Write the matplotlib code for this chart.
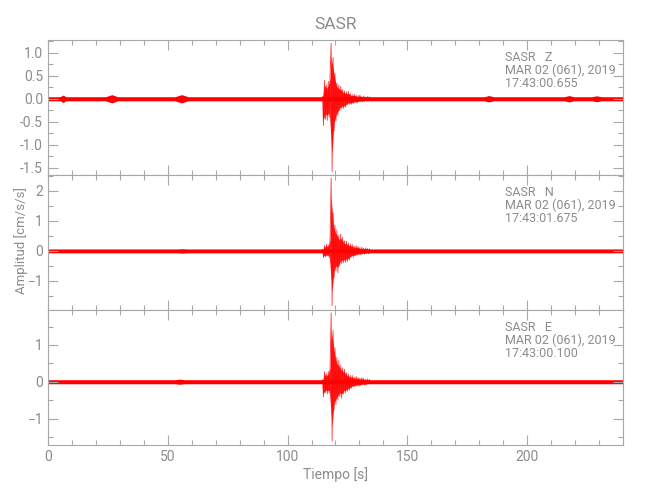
import matplotlib
matplotlib.use("Agg")
import matplotlib.pyplot as plt
from matplotlib.ticker import MultipleLocator
import numpy as np

plt.rcParams['font.family'] = ['Roboto', 'DejaVu Sans']

station = "SASR"
components = ["Z", "N", "E"]
start_labels = ["MAR 02 (061), 2019", "MAR 02 (061), 2019", "MAR 02 (061), 2019"]
start_times = ["17:43:00.655", "17:43:01.675", "17:43:00.100"]

# fondo de ruido: tiempos y semiamplitud de la banda
noise_t_z = [0, 5, 6.3, 7.5, 24, 26.7, 29, 53, 55.8, 58.5, 114.6, 136, 182, 184, 186, 215.5, 217.5, 219.5, 227, 229, 231, 240]
noise_w_z = [0.045, 0.045, 0.08, 0.045, 0.045, 0.09, 0.045, 0.045, 0.09, 0.045, 0.045, 0.045, 0.045, 0.07, 0.045, 0.045, 0.07, 0.045, 0.045, 0.065, 0.045, 0.045]
noise_t_n = [0, 54, 56, 58, 114.6, 136, 240]
noise_w_n = [0.065, 0.065, 0.075, 0.065, 0.065, 0.065, 0.065]
noise_t_e = [0, 53, 55, 57, 114.6, 136, 240]
noise_w_e = [0.055, 0.055, 0.07, 0.055, 0.055, 0.055, 0.055]

# evento: muestras leidas cada 0.4 s desde 114.6 s
event_t0 = 114.6
event_dt = 0.4
event_z = [0.05, -0.58, 0.40, -0.45, 0.30, -0.47, 0.38, -0.40, 0.60, 1.21,
           -1.59, 0.90, -0.70, 0.55, -0.48, 0.34, -0.36, 0.30, -0.26, 0.27,
           -0.22, 0.20, -0.21, 0.17, -0.18, 0.15, -0.13, 0.16, -0.12, 0.11,
           -0.12, 0.09, -0.10, 0.10, -0.08, 0.08, -0.09, 0.07, -0.06, 0.08,
           -0.06, 0.05, -0.06, 0.06, -0.05, 0.04, -0.05, 0.05, -0.04, 0.04]
event_n = [0.05, -0.22, 0.18, -0.20, 0.22, -0.17, 0.20, -0.23, 0.50, 2.43,
           -1.82, 1.27, -0.90, 0.85, -0.66, 0.70, -0.73, 0.52, -0.50, 0.56,
           -0.42, 0.45, -0.40, 0.33, -0.38, 0.32, -0.35, 0.26, -0.30, 0.23,
           -0.20, 0.22, -0.21, 0.16, -0.17, 0.17, -0.14, 0.15, -0.13, 0.11,
           -0.13, 0.12, -0.10, 0.09, -0.11, 0.10, -0.08, 0.08, -0.09, 0.07]
event_e = [0.05, -0.41, 0.27, -0.30, 0.22, -0.33, 0.28, -0.30, 0.50, 1.87,
           -1.62, 1.40, -0.77, 0.92, -0.62, 0.66, -0.50, 0.58, -0.40, 0.45,
           -0.45, 0.38, -0.33, 0.34, -0.30, 0.24, -0.26, 0.21, -0.23, 0.17,
           -0.18, 0.17, -0.14, 0.13, -0.14, 0.14, -0.11, 0.12, -0.12, 0.10,
           -0.10, 0.11, -0.08, 0.09, -0.09, 0.07, -0.07, 0.08, -0.06, 0.06]

ylims = [(-1.66, 1.28), (-1.97, 2.53), (-1.72, 1.95)]
ymajor = [0.5, 1.0, 1.0]
yminor = [0.25, 0.5, 0.5]

noise = [(noise_t_z, noise_w_z), (noise_t_n, noise_w_n), (noise_t_e, noise_w_e)]
events = [event_z, event_n, event_e]

gray = "#8c8c8c"
spine_gray = "#a8a8a8"

fig = plt.figure(figsize=(6.5, 5), dpi=100)
bottoms = [0.65, 0.38, 0.11]
axes = []
for i in range(3):
    ax = fig.add_axes([0.0738, bottoms[i], 0.8846, 0.27])
    axes.append(ax)

    nt, nw = noise[i]
    nw = np.array(nw)
    ax.fill_between(nt, -nw, nw, color="red", linewidth=0)

    ev = np.array(events[i])
    et = event_t0 + event_dt * np.arange(len(ev))
    pos = ev > 0
    upper = np.interp(et, et[pos], ev[pos])
    lower = np.interp(et, et[~pos], ev[~pos])
    ax.fill_between(et, lower * 0.75, upper * 0.75, color="red", linewidth=0, alpha=0.85)
    ax.plot(et, ev, color="red", linewidth=0.6, alpha=0.8)

    ax.set_xlim(0, 240)
    ax.set_ylim(*ylims[i])
    ax.xaxis.set_major_locator(MultipleLocator(50))
    ax.xaxis.set_minor_locator(MultipleLocator(10))
    ax.yaxis.set_major_locator(MultipleLocator(ymajor[i]))
    ax.yaxis.set_minor_locator(MultipleLocator(yminor[i]))
    ax.tick_params(which="both", direction="in", top=True, right=True,
                   color=spine_gray, labelcolor=gray, labelsize=10, width=0.8)
    ax.tick_params(which="major", length=7)
    ax.tick_params(which="minor", length=3.6)
    for s in ax.spines.values():
        s.set_color(spine_gray)
        s.set_linewidth(0.8)
    if i < 2:
        ax.tick_params(labelbottom=False)

    ax.text(0.795, 0.87, f"{station}   {components[i]}", transform=ax.transAxes,
            fontsize=9, color=gray, va="center")
    ax.text(0.795, 0.775, start_labels[i], transform=ax.transAxes,
            fontsize=9, color=gray, va="center")
    ax.text(0.795, 0.68, start_times[i], transform=ax.transAxes,
            fontsize=9, color=gray, va="center")

axes[0].yaxis.set_major_formatter(plt.FormatStrFormatter("%.1f"))
axes[0].set_title(station, fontsize=12.5, color=gray, pad=8)
axes[2].set_xlabel("Tiempo [s]", fontsize=10, color=gray, labelpad=2)
fig.text(0.033, 0.52, "Amplitud [cm/s/s]", rotation=90, fontsize=9.5,
         color=gray, ha="center", va="center")

fig.savefig("out.png", dpi=100)
